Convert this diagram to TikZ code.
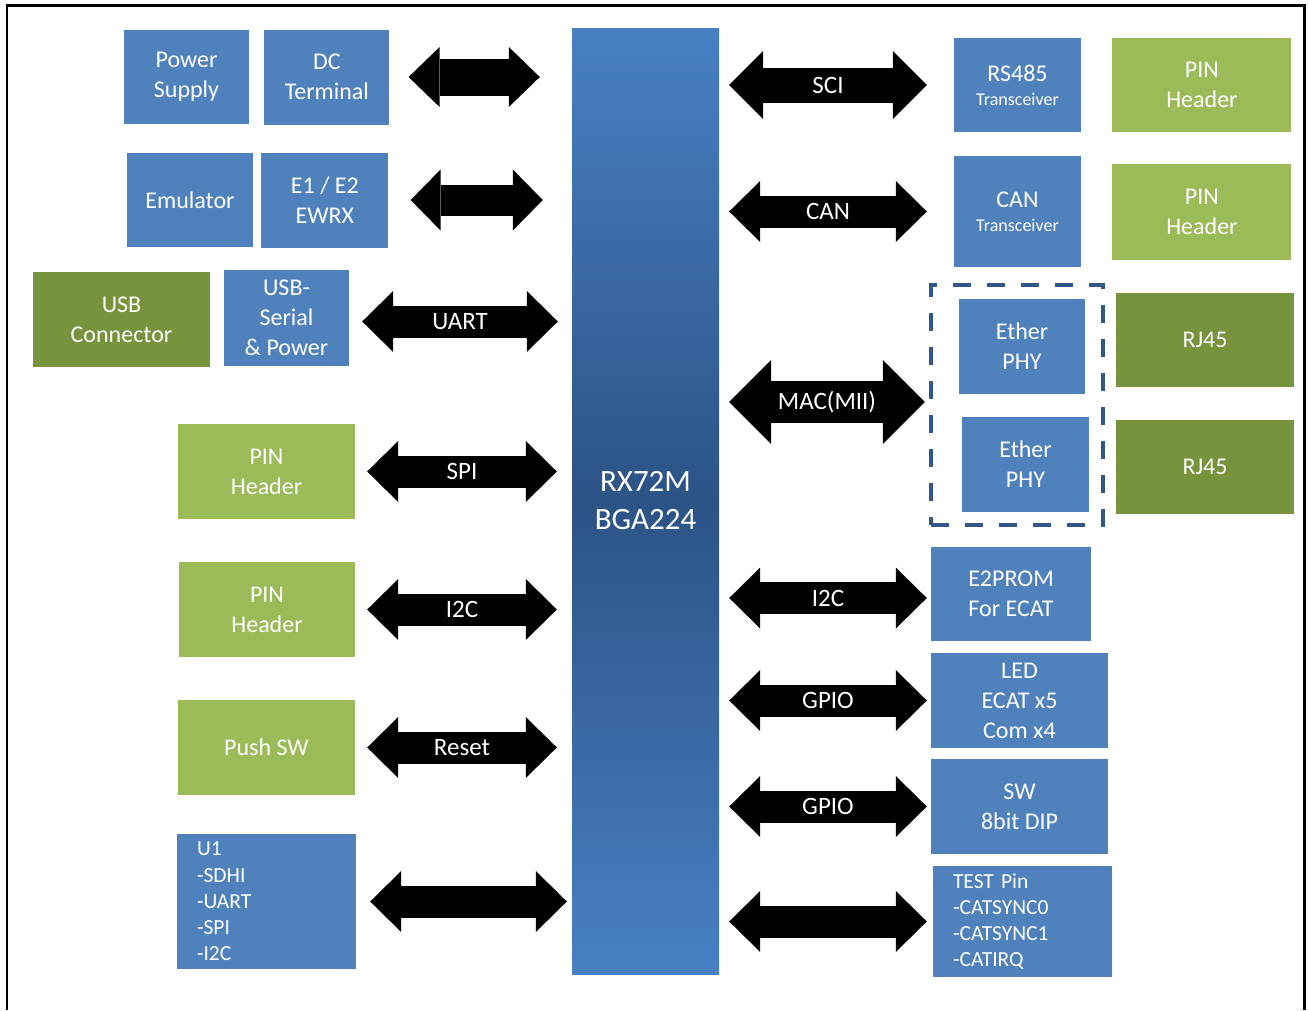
\documentclass[tikz,border=0pt]{standalone}
\usepackage{fontspec}
\setmainfont{Carlito}
\usetikzlibrary{arrows.meta,positioning,shapes}

\definecolor{boxblue}{RGB}{79,129,189}
\definecolor{pingreen}{RGB}{155,187,89}
\definecolor{conngreen}{RGB}{119,147,60}
\definecolor{chiptop}{RGB}{72,128,196}
\definecolor{chipmid}{RGB}{44,83,134}
\definecolor{dashblue}{RGB}{50,86,136}

\begin{document}
\begin{tikzpicture}[x=1pt,y=-1pt,
    box/.style={rectangle,fill=boxblue,text=white,align=center,inner sep=0pt,minimum height=95pt,font=\fontsize{24}{30}\selectfont},
    pin/.style={box,fill=pingreen},
    conn/.style={box,fill=conngreen},
    list/.style={box,align=left,font=\fontsize{21.5}{26.3}\selectfont},
    bus/.style n args={3}{line width=#1,{Triangle[width=#2,length=#3,line width=0pt]}-{Triangle[width=#2,length=#3,line width=0pt]}},
    stdbus/.style={bus={32pt}{61pt}{31pt}},
    lbl/.style={midway,text=white,font=\fontsize{25}{30}\selectfont}]

    \useasboundingbox (0,0) rectangle (1309,1010);
    \draw[line width=2.5pt] (7,1010) -- (7,5.5) -- (1304.5,5.5) -- (1304.5,1010);

    % the MCU
    \node[box,minimum width=147pt,minimum height=946pt,shading=axis,top color=chiptop,bottom color=chiptop,middle color=chipmid,font=\fontsize{31}{38}\selectfont] (chip) at (645.5,501) {RX72M\\BGA224};

    % left side
    \node[box,minimum width=125pt,minimum height=94pt] (pwr) at (186.5,77) {Power\\Supply};
    \node[box,minimum width=125pt] (dc) [right=15pt of pwr] {DC\\Terminal};
    \node[box,minimum width=126pt,minimum height=94pt] (emu) at (190,200) {Emulator};
    \node[box,minimum width=127pt] (ewrx) [right=8pt of emu] {E1 / E2\\EWRX};
    \node[conn,minimum width=177pt] (usbc) at (121.5,319.5) {USB\\Connector};
    \node[box,minimum width=125pt,minimum height=96pt] (usbs) at (286.5,318) {USB-\\Serial\\\& Power};
    \node[pin,minimum width=177pt] (pinspi) at (266.5,471.5) {PIN\\Header};
    \node[pin,minimum width=176pt] (pini2c) at (267,609.5) {PIN\\Header};
    \node[pin,minimum width=177pt] (push) at (266.5,747.5) {Push SW};
    \node[list,minimum width=179pt,minimum height=135pt,text width=139pt] (u1) at (266.5,901.5) {U1\\-SDHI\\-UART\\-SPI\\-I2C};

    % right side
    \node[box,minimum width=127pt,minimum height=94pt] (rs) at (1017.5,85) {RS485\\[-6pt]{\fontsize{18}{20}\selectfont Transceiver}};
    \node[pin,minimum width=179pt,minimum height=94pt] (hdr1) [right=31pt of rs] {PIN\\Header};
    \node[box,minimum width=127pt,minimum height=111pt] (can) at (1017.5,211.5) {CAN\\[-6pt]{\fontsize{18}{20}\selectfont Transceiver}};
    \node[pin,minimum width=179pt,minimum height=96pt] (hdr2) [right=31pt of can] {PIN\\Header};
    \node[box,minimum width=126pt] (phy1) at (1022,346.5) {Ether\\PHY};
    \node[box,minimum width=127pt] (phy2) at (1025.5,464.5) {Ether\\PHY};
    \node[draw=dashblue,line width=4.5pt,dash pattern=on 18pt off 16pt,minimum width=172pt,minimum height=240pt,inner sep=0pt] (ether) at (1017,405) {};
    \node[conn,minimum width=178pt,minimum height=94pt] (rj1) at (1205,340) {RJ45};
    \node[conn,minimum width=178pt,minimum height=94pt] (rj2) at (1205,467) {RJ45};
    \node[box,minimum width=160pt,minimum height=94pt] (eep) at (1011,594) {E2PROM\\For ECAT};
    \node[box,minimum width=177pt] (led) at (1019.5,700.5) {LED\\ECAT x5\\Com x4};
    \node[box,minimum width=177pt] (dip) at (1019.5,806.5) {SW\\8bit DIP};
    \node[list,minimum width=179pt,minimum height=111pt,text width=139pt] (tst) at (1022.5,921.5) {TEST Pin\\-CATSYNC0\\-CATSYNC1\\-CATIRQ};

    % buses, left
    \draw[bus={37pt}{60pt}{31pt}] ([xshift=19pt]dc.east) -- ([xshift=-32pt]chip.west |- dc);
    \draw[bus={31pt}{61pt}{30pt}] ([xshift=22pt]ewrx.east) -- ([xshift=-29pt]chip.west |- ewrx);
    \draw[stdbus] ([xshift=13pt,yshift=-3.5pt]usbs.east) -- ([xshift=-14pt,yshift=-3.5pt]chip.west |- usbs) node[lbl]{UART};
    \foreach \src/\txt in {pinspi/SPI,pini2c/I2C,push/Reset}
        \draw[stdbus] ([xshift=12pt]\src.east) -- ([xshift=-15pt]chip.west |- \src) node[lbl]{\txt};
    \draw[stdbus] ([xshift=14pt]u1.east) -- ([xshift=-5pt]chip.west |- u1);

    % buses, right
    \draw[bus={35pt}{68pt}{34pt}] ([xshift=10pt]chip.east |- rs) -- ([xshift=-27pt]rs.west) node[lbl]{SCI};
    \draw[stdbus] ([xshift=10pt]chip.east |- can) -- ([xshift=-27pt]can.west) node[lbl]{CAN};
    \draw[bus={42pt}{84pt}{42pt}] ([xshift=10pt,yshift=3pt]chip.east |- ether) -- ([xshift=-4pt,yshift=3pt]ether.west) node[lbl]{MAC(MII)};
    \draw[stdbus] ([xshift=10pt,yshift=-4pt]chip.east |- eep) -- ([xshift=-4pt,yshift=-4pt]eep.west) node[lbl]{I2C};
    \foreach \dst in {led,dip}
        \draw[stdbus] ([xshift=10pt]chip.east |- \dst) -- ([xshift=-4pt]\dst.west) node[lbl]{GPIO};
    \draw[stdbus] ([xshift=10pt]chip.east |- tst) -- ([xshift=-6pt]tst.west);

\end{tikzpicture}
\end{document}
